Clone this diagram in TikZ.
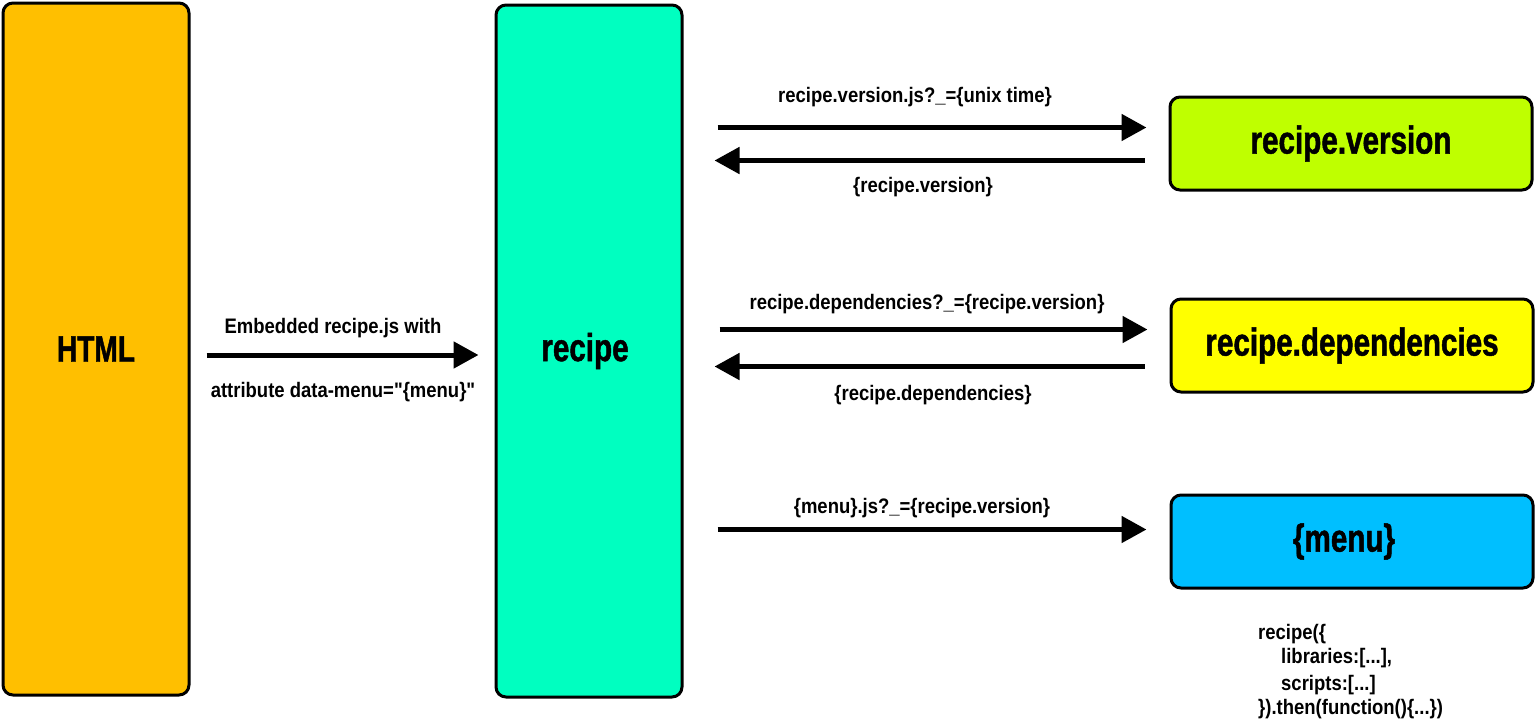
\documentclass[tikz,border=0pt]{standalone}
\usepackage{fontspec}
\setmainfont{Liberation Sans}[FakeStretch=0.78, Ligatures=TeXOff]
\newfontfamily\boxfont{Liberation Sans}[FakeStretch=0.76, FakeBold=1.2]
\newfontfamily\lblfont{Liberation Sans}[FakeStretch=0.88, Ligatures=TeXOff]
\usetikzlibrary{arrows.meta,calc}
\definecolor{htmlc}{HTML}{FFBF00}
\definecolor{recipec}{HTML}{00FFC0}
\definecolor{verc}{HTML}{BFFF00}
\definecolor{depc}{HTML}{FFFF00}
\definecolor{menuc}{HTML}{00BFFF}
\tikzset{
  box/.style={draw=black, line width=3pt, rounded corners=10pt, inner sep=0pt,
    font=\boxfont\fontsize{39}{42}\selectfont\bfseries},
  lbl/.style={inner sep=0pt, anchor=base, font=\lblfont\fontsize{21}{24}\selectfont\bfseries},
  codeline/.style={lbl, anchor=base west},
  arr/.style={line width=5pt, -{Triangle[length=25pt,width=26pt]}}
}
\begin{document}
\begin{tikzpicture}[x=1pt,y=-1pt]
\useasboundingbox (0,0) rectangle (1536,721);
\node[box, fill=htmlc, minimum width=186pt, minimum height=692pt, font=\boxfont\fontsize{37}{40}\selectfont\bfseries] (html) at (96,349) {HTML};
\node[box, fill=recipec, minimum width=186pt, minimum height=692pt] (recipe) at (589,351) {\hspace*{-8pt}recipe};
\node[box, fill=verc, minimum width=362pt, minimum height=93pt] (ver) at (1351,143.5) {recipe.version};
\node[box, fill=depc, minimum width=362pt, minimum height=93pt] (dep) at (1352,345.5) {recipe.dependencies};
\node[box, fill=menuc, minimum width=362pt, minimum height=93pt] (menu) at (1352,541.5) {\hspace*{-16pt}\{menu\}};

\coordinate (h1) at ($(html.east)+(16,6)$);
\coordinate (h2) at ($(recipe.west)+(-16,4)$);
\draw[arr] (h1) -- (h2);
\node[lbl] (l0a) at (333,333) {Embedded recipe.js with};
\node[lbl] (l0b) at (343,397) {attribute data-menu="\{menu\}"};

\draw[arr] ($(recipe.east |- ver.west)+(34,-16)$) -- ($(ver.west)+(-22,-16)$);
\draw[arr] ($(ver.west)+(-24,17)$) -- ($(recipe.east |- ver.west)+(31,17)$);
\node[lbl] (l1) at (915,102.5) {recipe.version.js?\_=\{unix time\}};
\node[lbl] (l2) at (923,192) {\{recipe.version\}};

\draw[arr] ($(recipe.east |- dep.west)+(36,-16)$) -- ($(dep.west)+(-22,-16)$);
\draw[arr] ($(dep.west)+(-25,21)$) -- ($(recipe.east |- dep.west)+(31,21)$);
\node[lbl] (l3) at (927,309) {recipe.dependencies?\_=\{recipe.version\}};
\node[lbl] (l4) at (933,400) {\{recipe.dependencies\}};

\draw[arr] ($(recipe.east |- menu.west)+(34,-12)$) -- ($(menu.west)+(-23,-12)$);
\node[lbl] (l5) at (922,513) {\{menu\}.js?\_=\{recipe.version\}};

\node[codeline] (c1) at (1258,639) {recipe(\{};
\node[codeline] (c2) at (1281,663) {libraries:[...],};
\node[codeline] (c3) at (1281,690) {scripts:[...]};
\node[codeline] (c4) at (1258,714) {\}).then(function()\{...\})};
\end{tikzpicture}
\end{document}
